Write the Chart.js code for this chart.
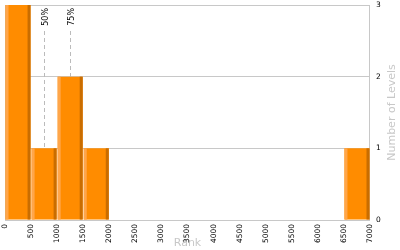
<!DOCTYPE html>
<html>
<head>
<meta charset="utf-8">
<script src="https://cdn.jsdelivr.net/npm/chart.js@4"></script>
<style>
  html, body { margin: 0; padding: 0; background: #fff; }
  #wrap { width: 400px; height: 250px; }
</style>
</head>
<body>
<div id="wrap"><canvas id="chart"></canvas></div>
<script>
// histogram bins (rank, width 500) and level counts
const binStarts = [0, 500, 1000, 1500, 6500]
const binWidth = 500
const levelCounts = [3, 1, 2, 1, 1]
// percentile markers
const percentileLabels = ['50%', '75%']
const percentileRanks = [745, 1250]
const yTitle = 'Number of Levels'

const axisFont = { family: 'DejaVu Sans', size: 7.5 }
const titleFont = { family: 'DejaVu Sans', size: 11 }

// box round the plot + dashed percentile lines
const framePlugin = {
  id: 'frame',
  beforeDatasetsDraw(chart) {
    const { ctx, chartArea: a, scales } = chart
    ctx.save()
    ctx.strokeStyle = '#c8c8c8'
    ctx.lineWidth = 1
    ctx.strokeRect(a.left + 0.5, a.top + 0.5, a.right - a.left - 1, a.bottom - a.top)

    ctx.setLineDash([4, 3])
    ctx.strokeStyle = '#bbbbbb'
    ctx.fillStyle = '#000'
    ctx.font = '8px "DejaVu Sans"'
    percentileRanks.forEach((r, i) => {
      const x = Math.round(scales.x.getPixelForValue(r)) + 0.5
      ctx.beginPath()
      ctx.moveTo(x, a.top + 26)
      ctx.lineTo(x, a.bottom)
      ctx.stroke()
      ctx.save()
      ctx.translate(x + 3, a.top + 3)
      ctx.rotate(-Math.PI / 2)
      ctx.textAlign = 'right'
      ctx.fillText(percentileLabels[i], 0, 0)
      ctx.restore()
    })
    ctx.restore()
  },
  afterDatasetsDraw(chart) {
    // light left edge and dark right edge on each bar
    const { ctx } = chart
    const meta = chart.getDatasetMeta(0)
    ctx.save()
    meta.data.forEach(bar => {
      const p = bar.getProps(['x', 'y', 'base', 'width'], true)
      const l = p.x - p.width / 2
      const r = p.x + p.width / 2
      ctx.fillStyle = '#ffa64a'
      ctx.fillRect(l, p.y, 3, p.base - p.y)
      ctx.fillStyle = '#c96d00'
      ctx.fillRect(r - 3, p.y, 3, p.base - p.y)
    })
    ctx.restore()
  },
  afterDraw(chart) {
    // y title reads bottom-to-top on the right side
    const { ctx, chartArea: a } = chart
    ctx.save()
    ctx.fillStyle = '#c8c8c8'
    ctx.font = '11px "DejaVu Sans"'
    ctx.translate(392, (a.top + a.bottom) / 2)
    ctx.rotate(-Math.PI / 2)
    ctx.textAlign = 'center'
    ctx.textBaseline = 'middle'
    ctx.fillText(yTitle, 0, 0)
    ctx.restore()
  }
}

new Chart(document.getElementById('chart'), {
  type: 'bar',
  data: {
    datasets: [{
      data: binStarts.map((s, i) => ({ x: s + binWidth / 2, y: levelCounts[i] })),
      backgroundColor: '#ff8c00',
      borderWidth: 0,
      barPercentage: 0.96,
      categoryPercentage: 1
    }]
  },
  options: {
    responsive: true,
    maintainAspectRatio: false,
    animation: false,
    layout: { padding: { left: 5, top: 5, right: 0, bottom: 0 } },
    plugins: { legend: { display: false }, tooltip: { enabled: false } },
    scales: {
      x: {
        type: 'linear',
        min: 0,
        max: 7000,
        offset: false,
        grid: { display: false, drawTicks: false },
        border: { display: false },
        afterFit(scale) {
          scale.height = 30
          scale.paddingLeft = 0
          scale.paddingRight = 0
        },
        ticks: {
          stepSize: 500,
          autoSkip: false,
          minRotation: 90,
          maxRotation: 90,
          padding: 4,
          color: '#000',
          font: axisFont,
          callback: v => String(v)
        },
        title: { display: true, text: 'Rank', color: '#c8c8c8', font: titleFont, padding: { top: 0, bottom: 0 } }
      },
      y: {
        position: 'right',
        min: 0,
        max: 3,
        grid: { color: '#c8c8c8', drawTicks: false },
        border: { display: false },
        afterFit(scale) {
          scale.width = 30
          scale.paddingTop = 0
          scale.paddingBottom = 0
        },
        ticks: { stepSize: 1, padding: 6, color: '#000', font: axisFont },
        title: { display: false }
      }
    }
  },
  plugins: [framePlugin]
})
</script>
</body>
</html>
